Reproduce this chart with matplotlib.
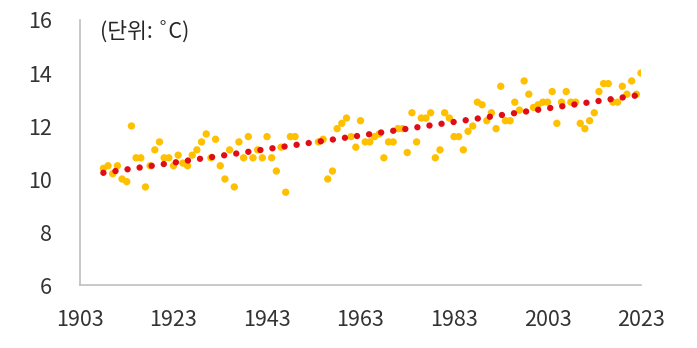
import numpy as np
import matplotlib.pyplot as plt

plt.rcParams['font.family'] = ['Noto Sans CJK KR', 'DejaVu Sans']
plt.rcParams['font.weight'] = 'light'

# 연도 (1950-1953 결측)
years = list(range(1908, 1950)) + list(range(1954, 2024))

# 연평균 기온
temp_1908_1949 = [10.4, 10.5, 10.2, 10.5, 10.0, 9.9, 12.0, 10.8, 10.8, 9.7, 10.5,
                  11.1, 11.4, 10.8, 10.8, 10.5, 10.9, 10.6, 10.5, 10.9, 11.1, 11.4,
                  11.7, 10.8, 11.5, 10.5, 10.0, 11.1, 9.7, 11.4, 10.8, 11.6,
                  10.8, 11.1, 10.8, 11.6, 10.8, 10.3, 11.2, 9.5, 11.6, 11.6]
temp_1954_1973 = [11.4, 11.5, 10.0, 10.3, 11.9, 12.1, 12.3, 11.6, 11.2, 12.2,
                  11.4, 11.4, 11.6, 11.7, 10.8, 11.4, 11.4, 11.9, 11.9, 11.0]
temp_1974_1995 = [12.5, 11.4, 12.3, 12.3, 12.5, 10.8, 11.1, 12.5, 12.3, 11.6, 11.6,
                  11.1, 11.8, 12.0, 12.9, 12.8, 12.2, 12.5, 11.9, 13.5, 12.2, 12.2]
temp_1996_2023 = [12.9, 12.6, 13.7, 13.2, 12.7, 12.8, 12.9, 12.9, 13.3, 12.1,
                  12.9, 13.3, 12.9, 12.9, 12.1, 11.9, 12.2, 12.5, 13.3, 13.6,
                  13.6, 12.9, 12.9, 13.5, 13.2, 13.7, 13.2, 14.0]
temps = temp_1908_1949 + temp_1954_1973 + temp_1974_1995 + temp_1996_2023

x_ticks = list(range(1903, 2024, 20))
y_ticks = [6, 8, 10, 12, 14, 16]

x = np.array(years)
y = np.array(temps)
# 추세선
k, b = np.polyfit(x, y, 1)
xt = np.array([x[0], x[-1]])

fig = plt.figure(figsize=(6.97, 3.48), dpi=100)
ax = fig.add_axes([80/697, 63/348, 561/697, 265/348])

ax.scatter(x, y, s=28, color='#FFC000', edgecolors='none', zorder=2)
ax.plot(xt, k*xt + b, color='#E00D16', lw=4.6, linestyle=(0, (0.01, 1.9)),
        dash_capstyle='round', zorder=3)

ax.set_xlim(1903, 2023)
ax.set_ylim(6, 16)
ax.set_xticks(x_ticks)
ax.set_yticks(y_ticks)
ax.tick_params(length=0, labelsize=15.5, labelcolor='#333333')
ax.tick_params(axis='x', pad=17)
ax.tick_params(axis='y', pad=20)

for s in ['top', 'right']:
    ax.spines[s].set_visible(False)
for s in ['left', 'bottom']:
    ax.spines[s].set_color('#BFBFBF')
    ax.spines[s].set_linewidth(1.2)

fig.text(100/697, 1 - 32/348, '(단위: ˚C)', fontsize=15.5, color='#262626',
         va='center', ha='left')

fig.savefig('out.png', dpi=100)
